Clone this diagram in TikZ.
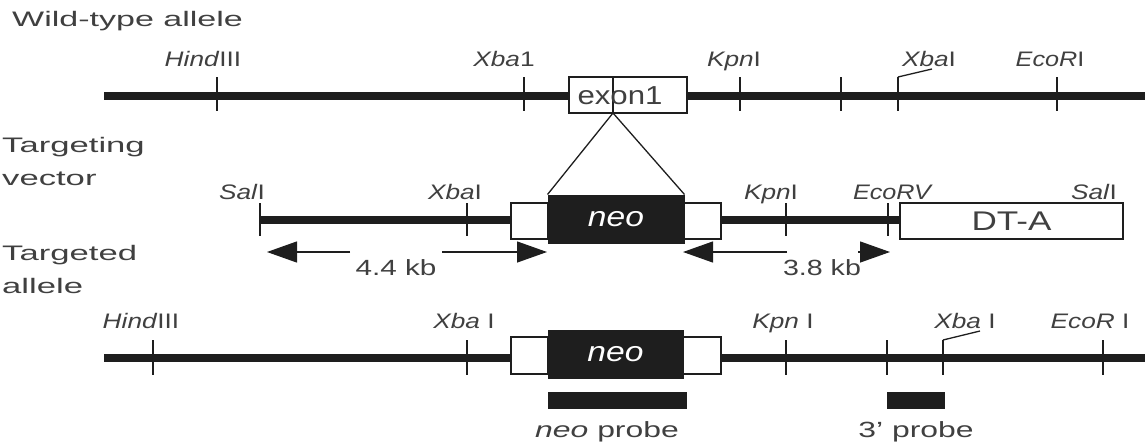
\documentclass[tikz,border=0pt]{standalone}
\usepackage{fontspec}
\setmainfont{Liberation Sans}
\usetikzlibrary{arrows.meta}
\definecolor{ink}{HTML}{1E1E1E}
\definecolor{txt}{HTML}{404040}
\newcommand\sx[2]{\scalebox{#1}[1]{#2}}
\begin{document}
\begin{tikzpicture}[x=1pt,y=-1pt,
  dna/.style={line width=7.5pt,draw=ink},
  cut/.style={line width=1.8pt,draw=ink},
  thin/.style={line width=1.3pt,draw=ink},
  wbox/.style={draw=ink,line width=1.5pt,fill=white,inner sep=0pt},
  bbox/.style={draw=ink,fill=ink,line width=1pt,inner sep=0pt},
  lab/.style={text=txt,inner sep=0pt,anchor=base west,font=\fontsize{21}{25}\selectfont},
  enz/.style={text=txt,inner sep=0pt,anchor=base,font=\fontsize{21}{25}\selectfont},
  kb/.style={text=txt,inner sep=0pt,anchor=base,font=\fontsize{22}{26}\selectfont},
  arr/.style={thin,-{Triangle[length=30pt,width=21pt]}}
]
\useasboundingbox (0,0) rectangle (1145,447);

% ---------- left labels
\node[lab] (lwt) at (12,27) {\sx{1.62}{Wild-type allele}};
\node[lab] (ltv1) at (2,152) {\sx{1.65}{Targeting}};
\node[lab] (ltv2) at (2,185) {\sx{1.65}{vector}};
\node[lab] (lta1) at (2,260) {\sx{1.65}{Targeted}};
\node[lab] (lta2) at (2,293) {\sx{1.65}{allele}};

% ---------- wild-type allele
\coordinate (w0) at (104,96);
\coordinate (w1) at (1145,96);
\node[wbox,minimum width=118pt,minimum height=36pt] (exon) at (628,95) {};
\draw[dna] (w0) -- (exon.west |- w0);
\draw[dna] (exon.east |- w0) -- (w1);
\coordinate (d0) at (613,77);
\coordinate (d1) at (613,113);
\draw[thin] (d0) -- (d1);
\node[text=txt,inner sep=0pt,font=\fontsize{26}{28}\selectfont] (exontxt) at (620,96) {\sx{1.2}{exon1}};
\foreach \x in {217,524,740,841,898,1057} \draw[cut] (\x,77) -- (\x,111);
\coordinate (wl0) at (898,77);
\coordinate (wl1) at (932,69);
\draw[thin] (wl0) -- (wl1);
\node[enz] (wH) at (203,66) {\sx{1.25}{\textit{Hind}III}};
\node[enz] (wX1) at (504,66) {\sx{1.25}{\textit{Xba}1}};
\node[enz] (wK) at (734,66) {\sx{1.25}{\textit{Kpn}I}};
\node[enz] (wX2) at (929,66) {\sx{1.25}{\textit{Xba}I}};
\node[enz] (wE) at (1050,66) {\sx{1.2}{\textit{EcoR}I}};

% ---------- targeting vector
\node[wbox,minimum width=37pt,minimum height=36pt] (vL) at (529.5,221) {};
\node[wbox,minimum width=37pt,minimum height=36pt] (vR) at (702.5,221) {};
\node[bbox,minimum width=136pt,minimum height=48pt,text=white,font=\fontsize{28}{30}\selectfont\itshape] (vneo) at (616,219) {\sx{1.2}{neo}};
\node[wbox,minimum width=223pt,minimum height=36pt,text=txt,font=\fontsize{27}{29}\selectfont] (dta) at (1011.5,221) {\sx{1.3}{DT-A}};
\coordinate (s0) at (260,220);
\draw[dna] (s0) -- (vL.west |- s0);
\draw[dna] (vR.east |- s0) -- (dta.west |- s0);
\foreach \x in {260,467,786,888} \draw[cut] (\x,203) -- (\x,236);
\draw[thin] (d1) -- (vneo.north west);
\draw[thin] (d1) -- (vneo.north east);
\node[enz] (vS1) at (242,199) {\sx{1.25}{\textit{Sal}I}};
\node[enz] (vX) at (455,199) {\sx{1.25}{\textit{Xba}I}};
\node[enz] (vK) at (771,199) {\sx{1.25}{\textit{Kpn}I}};
\node[enz] (vE) at (893,199) {\sx{1.2}{\textit{EcoRV}}};
\node[enz] (vS2) at (1094,199) {\sx{1.25}{\textit{Sal}I}};

% arrows
\coordinate (a1) at (350,252); \coordinate (a1t) at (267,252);
\coordinate (a2) at (442,252); \coordinate (a2t) at (547,252);
\coordinate (a3) at (787,252); \coordinate (a3t) at (683,252);
\coordinate (a4) at (858,252); \coordinate (a4t) at (890,252);
\draw[arr] (a1) -- (a1t);
\draw[arr] (a2) -- (a2t);
\draw[arr] (a3) -- (a3t);
\draw[arr] (a4) -- (a4t);
\node[kb] (kb44) at (396,275) {\sx{1.35}{4.4 kb}};
\node[kb] (kb38) at (822,275) {\sx{1.3}{3.8 kb}};

% ---------- targeted allele
\coordinate (t0) at (104,358);
\coordinate (t1) at (1145,358);
\node[wbox,minimum width=37pt,minimum height=37pt] (tL) at (529.5,355.5) {};
\node[wbox,minimum width=38pt,minimum height=37pt] (tR) at (702,355.5) {};
\node[bbox,minimum width=135pt,minimum height=48pt,text=white,font=\fontsize{28}{30}\selectfont\itshape] (tneo) at (615.5,354) {\sx{1.2}{neo}};
\draw[dna] (t0) -- (tL.west |- t0);
\draw[dna] (tR.east |- t0) -- (t1);
\foreach \x in {153,467,786,887,943,1103} \draw[cut] (\x,340) -- (\x,375);
\coordinate (tl0) at (943,340);
\coordinate (tl1) at (980,331);
\draw[thin] (tl0) -- (tl1);
\node[enz] (tH) at (141,328) {\sx{1.25}{\textit{Hind}III}};
\node[enz] (tX1) at (464,328) {\sx{1.25}{\textit{Xba} I}};
\node[enz] (tK) at (783,328) {\sx{1.25}{\textit{Kpn} I}};
\node[enz] (tX2) at (965,328) {\sx{1.25}{\textit{Xba} I}};
\node[enz] (tE) at (1090,328) {\sx{1.25}{\textit{EcoR} I}};

% probes
\node[bbox,minimum width=138pt,minimum height=16pt] (pneo) at (617,400) {};
\node[bbox,minimum width=57pt,minimum height=16pt] (p3) at (915.5,400) {};
\node[kb] (pneolab) at (607,437) {\sx{1.45}{\textit{neo} probe}};
\node[kb] (p3lab) at (916,437) {\sx{1.45}{3' probe}};
\end{tikzpicture}
\end{document}
